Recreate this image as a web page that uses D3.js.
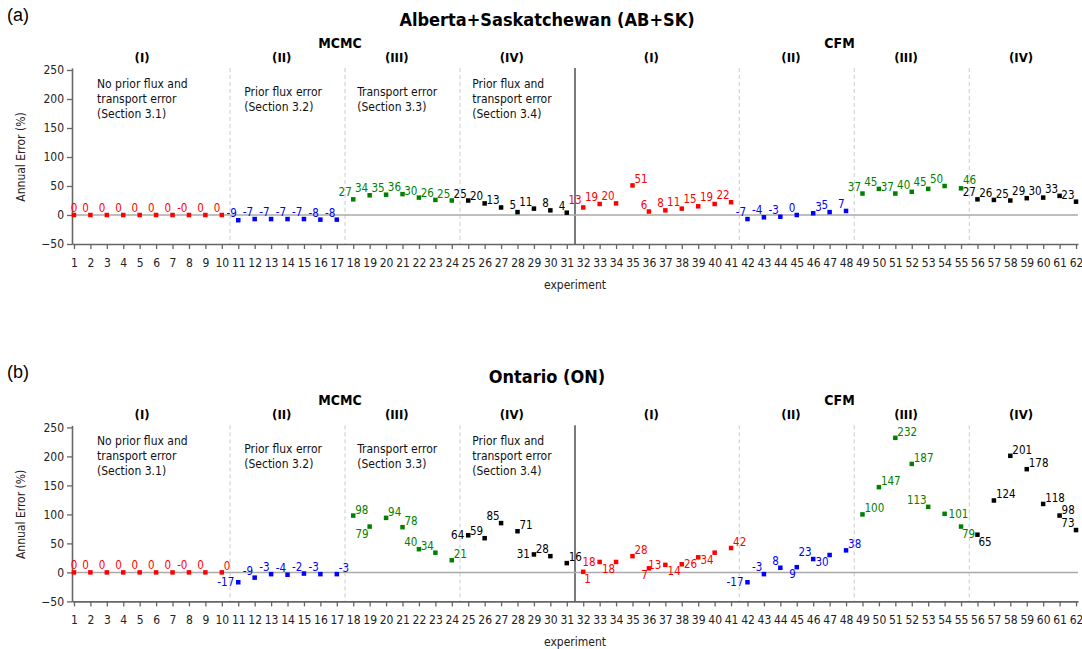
<!DOCTYPE html>
<html>
<head>
<meta charset="utf-8">
<script src="https://cdn.jsdelivr.net/npm/d3@7"></script>
<style>
  body { margin: 0; background: #fff; }
  text { font-family: "DejaVu Sans Condensed", "DejaVu Sans", sans-serif; }
</style>
</head>
<body>
<svg id="chart" width="1082" height="649"></svg>
<script>
const width = 1082;
const height = 649;

// experiment numbers on the x axis
const experiments = d3.range(1, 63);

// annual error (%) per experiment, Alberta+Saskatchewan
const abskError = [
    0, 0, 0, 0, 0, 0, 0, -0, 0, 0,
    -9, -7, -7, -7, -7, -8, -8,
    27, 34, 35, 36, 30, 26, 25,
    25, 20, 13, 5, 11, 8, 4,
    13, 19, 20, 51, 6, 8, 11, 15, 19, 22,
    -7, -4, -3, 0, 3, 5, 7,
    37, 45, 37, 40, 45, 50, 46,
    27, 26, 25, 29, 30, 33, 23
];

// annual error (%) per experiment, Ontario
const onError = [
    0, 0, 0, 0, 0, 0, 0, -0, 0, 0,
    -17, -9, -3, -4, -2, -3, -3,
    98, 79, 94, 78, 40, 34, 21,
    64, 59, 85, 71, 31, 28, 16,
    1, 18, 18, 28, 7, 13, 14, 26, 34, 42,
    -17, -3, 8, 9, 23, 30, 38,
    100, 147, 232, 187, 113, 101, 79,
    65, 124, 201, 178, 118, 98, 73
];

// experiment groups
const sectionNames = ["(I)", "(II)", "(III)", "(IV)", "(I)", "(II)", "(III)", "(IV)"];
const sectionFirst = [1, 11, 18, 25, 32, 42, 49, 56];
const sectionLast = [10, 17, 24, 31, 41, 48, 55, 62];
const methods = ["MCMC", "CFM"];
const notes = [
    ["No prior flux and", "transport error", "(Section 3.1)"],
    ["Prior flux error", "(Section 3.2)"],
    ["Transport error", "(Section 3.3)"],
    ["Prior flux and", "transport error", "(Section 3.4)"]
];
const yTicks = [-50, 0, 50, 100, 150, 200, 250];

// where each value label sits around its marker
const abskLabelPos = experiments.map(e =>
    e === 1 ? "n" : e === 55 ? "nne" : (e === 35 || e === 46) ? "ne" : "nw");
const onLabelPos = [
    "n", "nw", "nw", "nw", "nw", "nw", "nw", "nw", "nw", "ne",
    "w", "nw", "nw", "nw", "nw", "nw", "ne",
    "ne", "sw", "ne", "ne", "nw", "nw", "ne",
    "w", "nw", "nw", "ne", "w", "nw", "ne",
    "se", "w", "sw", "ne", "sw", "w", "sw", "sw", "sw", "ne",
    "w", "nw", "nw", "sw", "nw", "sw", "ne",
    "ne", "ne", "ne", "ne", "nw", "e", "se",
    "se", "ne", "ne", "ne", "ne", "ne", "nw"
];

const sectionColor = ["#ff0000", "#0000ff", "#008000", "#000000"];
const placement = {
    n:   {anchor: "middle", dx: 0, dy: -3},
    nw:  {anchor: "end", dx: -1.5, dy: -3},
    ne:  {anchor: "start", dx: 2, dy: -2},
    nne: {anchor: "start", dx: 2, dy: -4},
    w:   {anchor: "end", dx: -4, dy: 4},
    e:   {anchor: "start", dx: 4, dy: 4},
    sw:  {anchor: "end", dx: -1, dy: 11},
    se:  {anchor: "start", dx: 1, dy: 11}
};

const svg = d3.select("#chart");

const x = d3.scaleLinear()
    .domain([0.88, 62.12])
    .range([72, 1078]);

const colorOf = exp => sectionColor[sectionLast.findIndex(l => exp <= l) % 4];
const fmt = v => Object.is(v, -0) ? "-0" : String(v);

function drawPanel(top, letter, title, values, labelPos) {
    const y = d3.scaleLinear()
        .domain([-50, 253.5])
        .range([top + 174, top - 2.03]);
    const bottom = y(-50);
    const g = svg.append("g");

    g.append("text")
        .attr("x", 7)
        .attr("y", top - 49)
        .style("font-family", "'Liberation Sans', Arial, sans-serif")
        .attr("font-size", 18)
        .text(letter);

    g.append("text")
        .attr("x", 547)
        .attr("y", top - 44.5)
        .attr("text-anchor", "middle")
        .attr("font-size", 18)
        .attr("font-weight", "bold")
        .text(title);

    // method headers
    const methodX = [17.2, 47.6];
    methods.forEach((m, i) => {
        g.append("text")
            .attr("x", x(methodX[i]))
            .attr("y", top - 22.5)
            .attr("text-anchor", "middle")
            .attr("font-size", 14)
            .attr("font-weight", "bold")
            .text(m);
    });

    // section headers
    sectionNames.forEach((s, i) => {
        g.append("text")
            .attr("x", x((sectionFirst[i] + sectionLast[i]) / 2 - 0.35))
            .attr("y", top - 8.5)
            .attr("text-anchor", "middle")
            .attr("font-size", 13)
            .attr("font-weight", "bold")
            .text(s);
    });

    // section notes
    const noteIndent = [23, 6, 4, 4];
    notes.forEach((lines, i) => {
        const t = g.append("text")
            .attr("x", x(sectionFirst[i]) + noteIndent[i])
            .attr("y", top + 28.5 - (lines.length - 1) * 7.5 + 4.5)
            .attr("font-size", 12)
            .attr("fill", "#111");
        lines.forEach((line, j) => {
            t.append("tspan")
                .attr("x", x(sectionFirst[i]) + noteIndent[i])
                .attr("dy", j === 0 ? 0 : 15)
                .text(line);
        });
    });

    // dividers between sections
    sectionLast.slice(0, -1).forEach((l, i) => {
        g.append("line")
            .attr("x1", x(l + 0.5)).attr("x2", x(l + 0.5))
            .attr("y1", y(253.5)).attr("y2", bottom)
            .attr("stroke", i === 3 ? "#333" : "#ccc")
            .attr("stroke-width", i === 3 ? 1.3 : 1)
            .attr("stroke-dasharray", i === 3 ? null : "4,3");
    });

    // zero line
    g.append("line")
        .attr("x1", x.range()[0]).attr("x2", x.range()[1])
        .attr("y1", y(0)).attr("y2", y(0))
        .attr("stroke", "#aaa")
        .attr("stroke-width", 1.5);

    // axes
    const xAxis = g.append("g")
        .attr("transform", `translate(0,${bottom})`)
        .call(d3.axisBottom(x).tickValues(experiments).tickSize(5).tickSizeOuter(0).tickPadding(9));
    const yAxis = g.append("g")
        .attr("transform", `translate(${x.range()[0]},0)`)
        .call(d3.axisLeft(y).tickValues(yTicks).tickSize(5).tickSizeOuter(0).tickPadding(3));
    [xAxis, yAxis].forEach(a => {
        a.select(".domain").attr("stroke", "#666").attr("stroke-width", 1.6);
        a.selectAll(".tick line").attr("stroke", "#666").attr("stroke-width", 1.3);
        a.selectAll(".tick text")
            .attr("font-size", 12)
            .attr("fill", "#222")
            .style("font-family", "'DejaVu Sans Condensed', 'DejaVu Sans', sans-serif");
    });

    g.append("text")
        .attr("transform", `translate(24.5,${(y(-50) + y(250)) / 2}) rotate(-90)`)
        .attr("text-anchor", "middle")
        .attr("font-size", 12)
        .attr("fill", "#222")
        .text("Annual Error (%)");

    g.append("text")
        .attr("x", x(31.5))
        .attr("y", bottom + 45)
        .attr("text-anchor", "middle")
        .attr("font-size", 12)
        .attr("fill", "#222")
        .text("experiment");

    // markers
    g.selectAll(".pt")
        .data(values)
        .enter()
        .append("rect")
        .attr("class", "pt")
        .attr("x", (d, i) => x(experiments[i]) - 2.25)
        .attr("y", d => y(d) - 2.25)
        .attr("width", 4.5)
        .attr("height", 4.5)
        .attr("fill", (d, i) => colorOf(experiments[i]));

    // value labels
    g.selectAll(".lbl")
        .data(values)
        .enter()
        .append("text")
        .attr("class", "lbl")
        .attr("x", (d, i) => x(experiments[i]) + placement[labelPos[i]].dx)
        .attr("y", d => y(d))
        .attr("dy", (d, i) => placement[labelPos[i]].dy)
        .attr("text-anchor", (d, i) => placement[labelPos[i]].anchor)
        .attr("font-size", 11.5)
        .attr("fill", (d, i) => colorOf(experiments[i]))
        .text(d => fmt(d));
}

drawPanel(70, "(a)", "Alberta+Saskatchewan (AB+SK)", abskError, abskLabelPos);
drawPanel(427.4, "(b)", "Ontario (ON)", onError, onLabelPos);
</script>
</body>
</html>
